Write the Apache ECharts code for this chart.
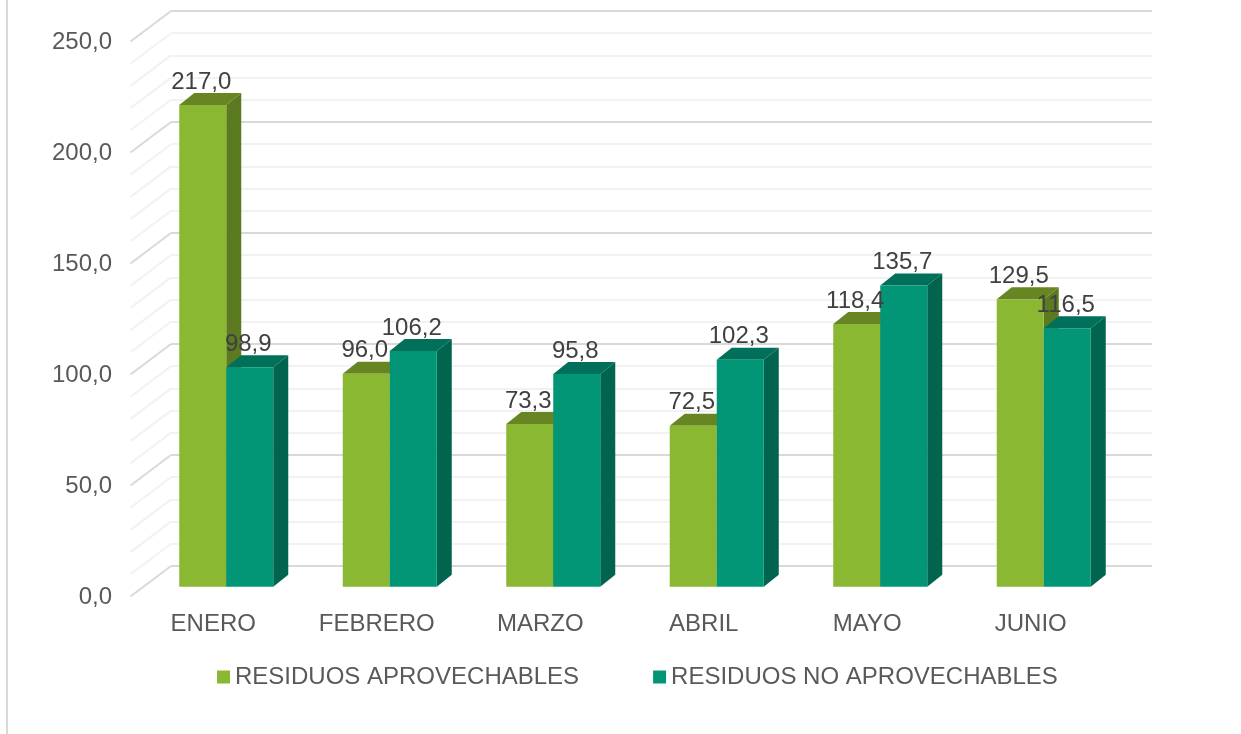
<!DOCTYPE html>
<html>
<head>
<meta charset="utf-8">
<title>Residuos</title>
<style>
  html, body { margin: 0; padding: 0; background: #fff; }
  #chart { width: 1241px; height: 734px; }
</style>
</head>
<body>
<div id="chart"></div>
<script src="https://cdn.jsdelivr.net/npm/echarts@6/dist/echarts.min.js"></script>
<script>
const months = ["ENERO", "FEBRERO", "MARZO", "ABRIL", "MAYO", "JUNIO"];
const aprovechables = [217.0, 96.0, 73.3, 72.5, 118.4, 129.5];
const noAprovechables = [98.9, 106.2, 95.8, 102.3, 135.7, 116.5];
const wallTicks = [0, 10, 20, 30, 40, 50, 60, 70, 80, 90, 100, 110, 120, 130, 140, 150, 160, 170, 180, 190, 200, 210, 220, 230, 240, 250];

const fontFamily = '"Liberation Sans", Arial, sans-serif';
const decimal = v => v.toFixed(1).replace(".", ",");

// the fake 3d look: the wall sits behind the bars, the bars behind the floor edge
const barDx = -26.5;
const barDy = 20.8;
const depthDx = 15;
const depthDy = 12;
const floorDx = -40.5;
const floorDy = 30.5;
const barRatio = 0.2875;

const green = { front: "#8ab833", side: "#5c7a1f", top: "#678623" };
const teal = { front: "#029676", side: "#01644e", top: "#01705a" };

function barItem(colors, side) {
  return function (params, api) {
    const i = api.value(0);
    const top = api.coord([i, api.value(1)]);
    const base = api.coord([i, 0]);
    const w = api.size([1, 0])[0] * barRatio;
    const x0 = top[0] + barDx + (side - 1) * w;
    const x1 = x0 + w;
    const y0 = top[1] + barDy;
    const y1 = base[1] + barDy;
    return {
      type: "group",
      children: [
        {
          type: "polygon",
          shape: { points: [[x1, y0], [x1 + depthDx, y0 - depthDy], [x1 + depthDx, y1 - depthDy], [x1, y1]] },
          style: { fill: colors.side }
        },
        {
          type: "polygon",
          shape: { points: [[x0, y0], [x0 + depthDx, y0 - depthDy], [x1 + depthDx, y0 - depthDy], [x1, y0]] },
          style: { fill: colors.top }
        },
        {
          type: "rect",
          shape: { x: x0, y: y0, width: w, height: y1 - y0 },
          style: { fill: colors.front }
        }
      ]
    };
  };
}

function labelItem(side) {
  return function (params, api) {
    const i = api.value(0);
    const top = api.coord([i, api.value(1)]);
    const w = api.size([1, 0])[0] * barRatio;
    return {
      type: "text",
      x: top[0] + barDx + (side - 0.5) * w - 1.5,
      y: top[1] + barDy - 23,
      style: {
        text: decimal(api.value(1)),
        fill: "#404040",
        font: "24px " + fontFamily,
        align: "center",
        verticalAlign: "middle"
      }
    };
  };
}

function wallItem(params, api) {
  const v = api.value(0);
  const p = api.coord([0, v]);
  const left = params.coordSys.x;
  return {
    type: "line",
    shape: { x1: left, y1: p[1], x2: left + floorDx, y2: p[1] + floorDy },
    style: { stroke: v % 50 === 0 ? "#d9d9d9" : "#f2f2f2", lineWidth: 2 }
  };
}

const toRows = list => list.map((v, i) => [i, v]);

const chart = echarts.init(document.getElementById("chart"));
chart.setOption({
  animation: false,
  backgroundColor: "#fff",
  textStyle: { fontFamily },
  graphic: [
    {
      type: "line",
      shape: { x1: 7, y1: 0, x2: 7, y2: 734 },
      style: { stroke: "#d9d9d9", lineWidth: 2 }
    }
  ],
  grid: { left: 171, right: 89, top: 11, bottom: 168 },
  legend: {
    data: [
      { name: "RESIDUOS APROVECHABLES", itemStyle: { color: green.front } },
      { name: "RESIDUOS NO APROVECHABLES", itemStyle: { color: teal.front } }
    ],
    left: 212,
    top: 660,
    icon: "rect",
    itemWidth: 13,
    itemHeight: 13,
    itemGap: 74,
    selectedMode: false,
    textStyle: { color: "#595959", fontSize: 24, fontFamily }
  },
  xAxis: {
    type: "category",
    data: months,
    axisLine: { show: false },
    axisTick: { show: false },
    axisLabel: {
      color: "#595959",
      fontSize: 24,
      fontFamily,
      margin: 46,
      padding: [0, 79, 0, 0],
      interval: 0
    }
  },
  yAxis: {
    type: "value",
    min: 0,
    max: 250,
    interval: 50,
    axisLine: { show: false },
    axisTick: { show: false },
    minorTick: { show: false, splitNumber: 5 },
    splitLine: { show: true, lineStyle: { color: "#d9d9d9", width: 2 } },
    minorSplitLine: { show: true, lineStyle: { color: "#f2f2f2", width: 2 } },
    axisLabel: {
      color: "#595959",
      fontSize: 24,
      fontFamily,
      margin: 59,
      verticalAlign: "top",
      lineHeight: 63,
      formatter: decimal
    }
  },
  series: [
    {
      type: "custom",
      name: "pared",
      data: wallTicks.map(v => [v]),
      encode: { y: 0 },
      renderItem: wallItem,
      silent: true,
      z: 1
    },
    {
      type: "custom",
      name: "RESIDUOS APROVECHABLES",
      data: toRows(aprovechables),
      encode: { x: 0, y: 1 },
      renderItem: barItem(green, 0),
      z: 2
    },
    {
      type: "custom",
      name: "RESIDUOS NO APROVECHABLES",
      data: toRows(noAprovechables),
      encode: { x: 0, y: 1 },
      renderItem: barItem(teal, 1),
      z: 3
    },
    {
      type: "custom",
      name: "etiquetas 1",
      data: toRows(aprovechables),
      encode: { x: 0, y: 1 },
      renderItem: labelItem(0),
      silent: true,
      z: 4
    },
    {
      type: "custom",
      name: "etiquetas 2",
      data: toRows(noAprovechables),
      encode: { x: 0, y: 1 },
      renderItem: labelItem(1),
      silent: true,
      z: 4
    }
  ]
});
</script>
</body>
</html>
